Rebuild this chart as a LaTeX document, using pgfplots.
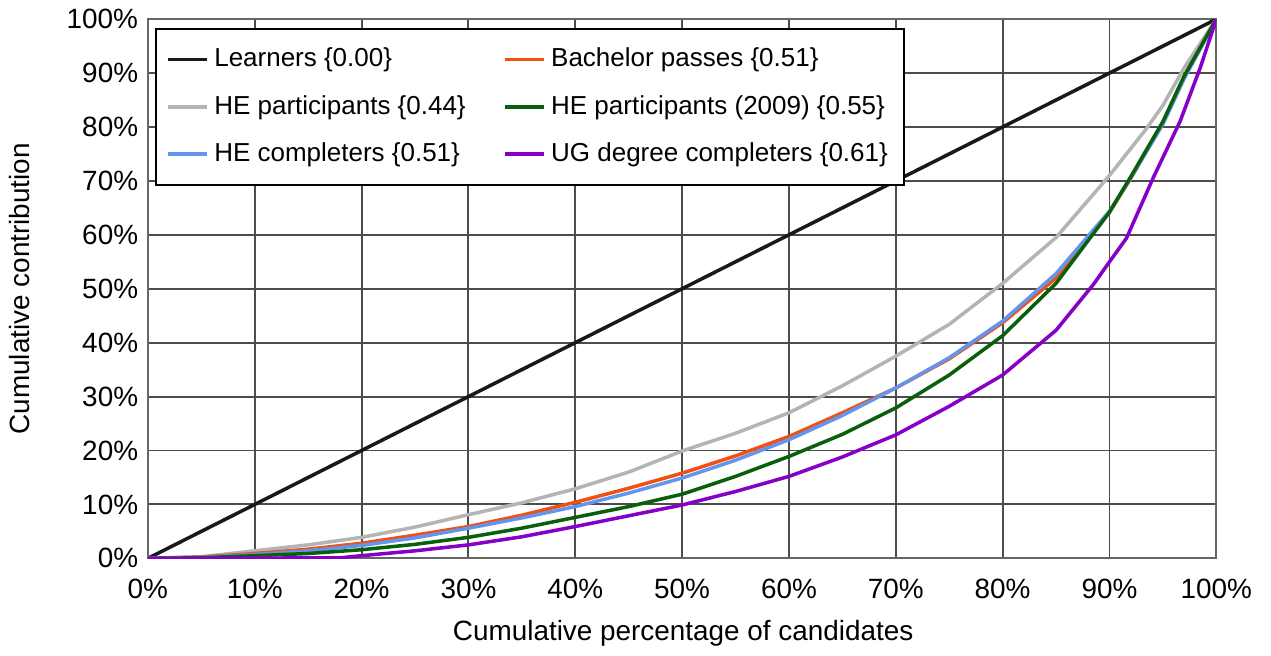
\documentclass[border=0pt]{standalone}
\usepackage{fontspec}
\setmainfont{Liberation Sans}
\usepackage{pgfplots}
\pgfplotsset{compat=1.18}
\definecolor{lrn}{RGB}{25,25,25}
\definecolor{hep}{RGB}{180,180,180}
\definecolor{bach}{RGB}{240,80,20}
\definecolor{hec}{RGB}{100,149,237}
\definecolor{he09}{RGB}{10,95,10}
\definecolor{ugd}{RGB}{135,0,200}

\begin{document}
\fontsize{10.3}{12}\selectfont
\begin{tikzpicture}
\begin{axis}[
  name=ax,
  scale only axis,
  width=13.87cm, height=7.0cm,
  xmin=0, xmax=100, ymin=0, ymax=100,
  xtick={0,10,...,100}, ytick={0,10,...,100},
  xticklabels={0\%,10\%,20\%,30\%,40\%,50\%,60\%,70\%,80\%,90\%,100\%},
  yticklabels={0\%,10\%,20\%,30\%,40\%,50\%,60\%,70\%,80\%,90\%,100\%},
  /pgf/number format/assume math mode=true,
  tick style={draw=none},
  grid=major,
  major grid style={black!70, line width=0.7pt},
  axis line style={black!60, line width=0.8pt},
  xticklabel style={yshift=-4pt},
  xlabel={Cumulative percentage of candidates},
  ylabel={Cumulative contribution},
  xlabel style={at={(axis description cs:0.501,-0.139)}, anchor=center},
  ylabel style={at={(axis description cs:-0.12,0.5)}, anchor=center},
  legend columns=2,
  legend cell align=left,
  legend style={at={(rel axis cs:0.0066,0.983)}, anchor=north west,
    draw=black, line width=0.6pt, inner xsep=4pt, inner ysep=5pt,
    row sep=5pt, font=\fontsize{9.6}{11}\selectfont,
    /tikz/every even column/.append style={column sep=0.42cm}},
  legend image code/.code={\draw[#1] (0cm,0cm) -- (0.5cm,0cm);},
  every axis plot/.append style={line width=1.3pt},
]
\addlegendimage{lrn, line width=1.4pt}
\addlegendentry{Learners \{0.00\}}
\addlegendimage{bach, line width=1.4pt}
\addlegendentry{Bachelor passes \{0.51\}}
\addlegendimage{hep, line width=1.4pt}
\addlegendentry{HE participants \{0.44\}}
\addlegendimage{he09, line width=1.4pt}
\addlegendentry{HE participants (2009) \{0.55\}}
\addlegendimage{hec, line width=1.4pt}
\addlegendentry{HE completers \{0.51\}}
\addlegendimage{ugd, line width=1.4pt}
\addlegendentry{UG degree completers \{0.61\}}

% Learners
\addplot[lrn, forget plot] coordinates {(0,0) (100,100)};
% HE participants
\addplot[hep, forget plot] coordinates {
(0,0) (5,0.3) (10,1.4) (15,2.5) (20,3.9) (25,5.8) (30,8.1) (35,10.3)
(40,12.9) (45,16) (50,19.9) (55,23.2) (60,27.0) (65,32) (70,37.5)
(75,43.4) (80,51) (85,59.5) (90,71) (93.5,79.8) (95,84) (97,91) (100,100)};
% Bachelor passes
\addplot[bach, forget plot] coordinates {
(0,0) (5,0.25) (10,0.9) (15,1.7) (20,2.8) (25,4.3) (30,5.9) (35,8.0)
(40,10.4) (45,13) (50,15.8) (55,19) (60,22.6) (65,27) (70,31.6)
(75,37) (80,43.7) (85,52) (90,64.2) (92,70.5) (95,80.8) (97,89.3) (100,100)};
% HE completers
\addplot[hec, forget plot] coordinates {
(0,0) (5,0.2) (10,0.7) (15,1.4) (20,2.4) (25,3.8) (30,5.6) (35,7.5)
(40,9.6) (45,12.1) (50,14.9) (55,18.2) (60,22.0) (65,26.5) (70,31.6)
(75,37.2) (80,44) (85,52.8) (90,64.4) (92,70.6) (95,80.5) (97,89) (100,100)};
% HE participants (2009)
\addplot[he09, forget plot] coordinates {
(0,0) (5,0.1) (10,0.5) (15,0.9) (20,1.6) (25,2.6) (30,3.9) (35,5.6)
(40,7.6) (45,9.6) (50,11.9) (55,15.2) (60,18.9) (65,23) (70,27.9)
(75,34) (80,41.3) (85,51) (90,64.2) (92,70.8) (95,81) (97,89.5) (100,100)};
% UG degree completers
\addplot[ugd, forget plot] coordinates {
(0,0) (10,0.05) (18,0.1) (20,0.5) (25,1.4) (30,2.5) (35,4.0) (40,5.9)
(45,7.9) (50,9.9) (55,12.4) (60,15.2) (65,18.8) (70,22.9) (75,28.2)
(80,34) (85,42.3) (88.5,50.8) (90,55) (91.6,59.4) (94.1,70.6) (96.6,81)
(98.5,91) (100,100)};
\end{axis}
\path (ax.south west) ++(-1.92cm,-1.18cm) -- (ax.north east) -- ++(0.71cm,0.234cm);
\end{tikzpicture}
\end{document}
